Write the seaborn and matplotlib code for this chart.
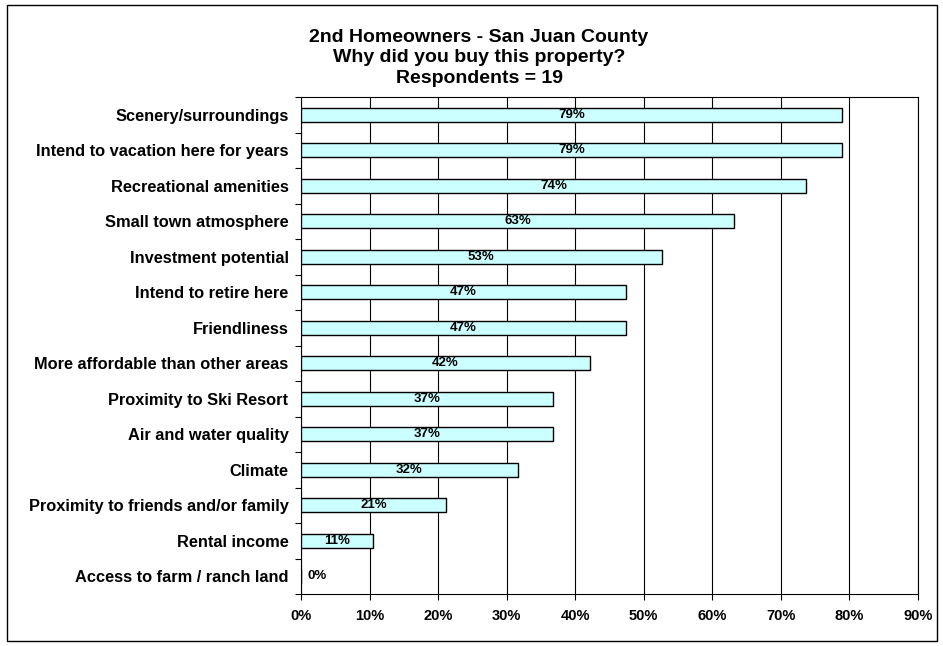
import matplotlib
matplotlib.use("Agg")
import matplotlib.pyplot as plt
import seaborn as sns
import pandas as pd
import numpy as np
from matplotlib.patches import Rectangle
from matplotlib.ticker import FixedLocator, FuncFormatter

categories = [
    "Scenery/surroundings",
    "Intend to vacation here for years",
    "Recreational amenities",
    "Small town atmosphere",
    "Investment potential",
    "Intend to retire here",
    "Friendliness",
    "More affordable than other areas",
    "Proximity to Ski Resort",
    "Air and water quality",
    "Climate",
    "Proximity to friends and/or family",
    "Rental income",
    "Access to farm / ranch land",
]
values = [78.9, 78.9, 73.7, 63.2, 52.6, 47.4, 47.4, 42.1, 36.8, 36.8, 31.6, 21.1, 10.5, 0.0]
x_ticks = [0, 10, 20, 30, 40, 50, 60, 70, 80, 90]
title_lines = ["2nd Homeowners - San Juan County", "Why did you buy this property?", "Respondents = 19"]

sns.set_theme(style="white")
plt.rcParams["font.family"] = ["Liberation Sans", "DejaVu Sans"]
plt.rcParams["font.weight"] = "bold"
plt.rcParams["text.color"] = "black"

df = pd.DataFrame({"cat": categories, "val": values})

fig = plt.figure(figsize=(9.43, 6.46), dpi=100)
ax = fig.add_axes([301/943, 1-594/646, (918-301)/943, (594-97)/646])

sns.barplot(data=df, y="cat", x="val", orient="h", order=categories,
            color="#CCFFFF", saturation=1, edgecolor="black", linewidth=1.0,
            width=0.4, ax=ax, zorder=3)

ax.set_xlim(0, 90)
ax.set_ylim(len(categories) - 0.5, -0.5)
ax.xaxis.set_major_locator(FixedLocator(x_ticks))
ax.xaxis.set_major_formatter(FuncFormatter(lambda v, p: f"{int(round(v))}%"))
ax.grid(axis="x", color="black", linewidth=0.8, zorder=0)
ax.grid(axis="y", visible=False)
ax.set_axisbelow(True)
ax.set_xlabel("")
ax.set_ylabel("")

ax.tick_params(axis="x", which="major", direction="out", length=4, width=0.8,
               color="black", labelsize=10.5, pad=7, bottom=True)
ax.tick_params(axis="y", which="major", length=0, labelsize=11.8, pad=9)
ax.yaxis.set_minor_locator(FixedLocator(np.arange(-0.5, len(categories) + 0.5, 1)))
ax.tick_params(axis="y", which="minor", direction="out", length=4, width=0.8,
               color="black", left=True)
for lab in ax.get_xticklabels() + ax.get_yticklabels():
    lab.set_fontweight("bold")
    lab.set_color("black")

for s in ["left", "bottom", "top", "right"]:
    ax.spines[s].set_visible(True)
    ax.spines[s].set_color("black")
    ax.spines[s].set_linewidth(0.8)

for i, v in enumerate(values):
    xpos = max(v / 2, 2.3)
    ax.text(xpos, i, f"{int(v + 0.5)}%", ha="center", va="center",
            fontsize=9.5, fontweight="bold", color="black", zorder=5)

fig.text(479/943, 1-58/646, "\n".join(title_lines), ha="center", va="center",
         fontsize=14, fontweight="bold", linespacing=1.25, color="black")

fig.patches.append(Rectangle((7/943, 1-641/646), (937-7)/943, (641-5)/646,
                             transform=fig.transFigure, fill=False,
                             edgecolor="black", linewidth=1.0))

fig.savefig("out.png", dpi=100)
